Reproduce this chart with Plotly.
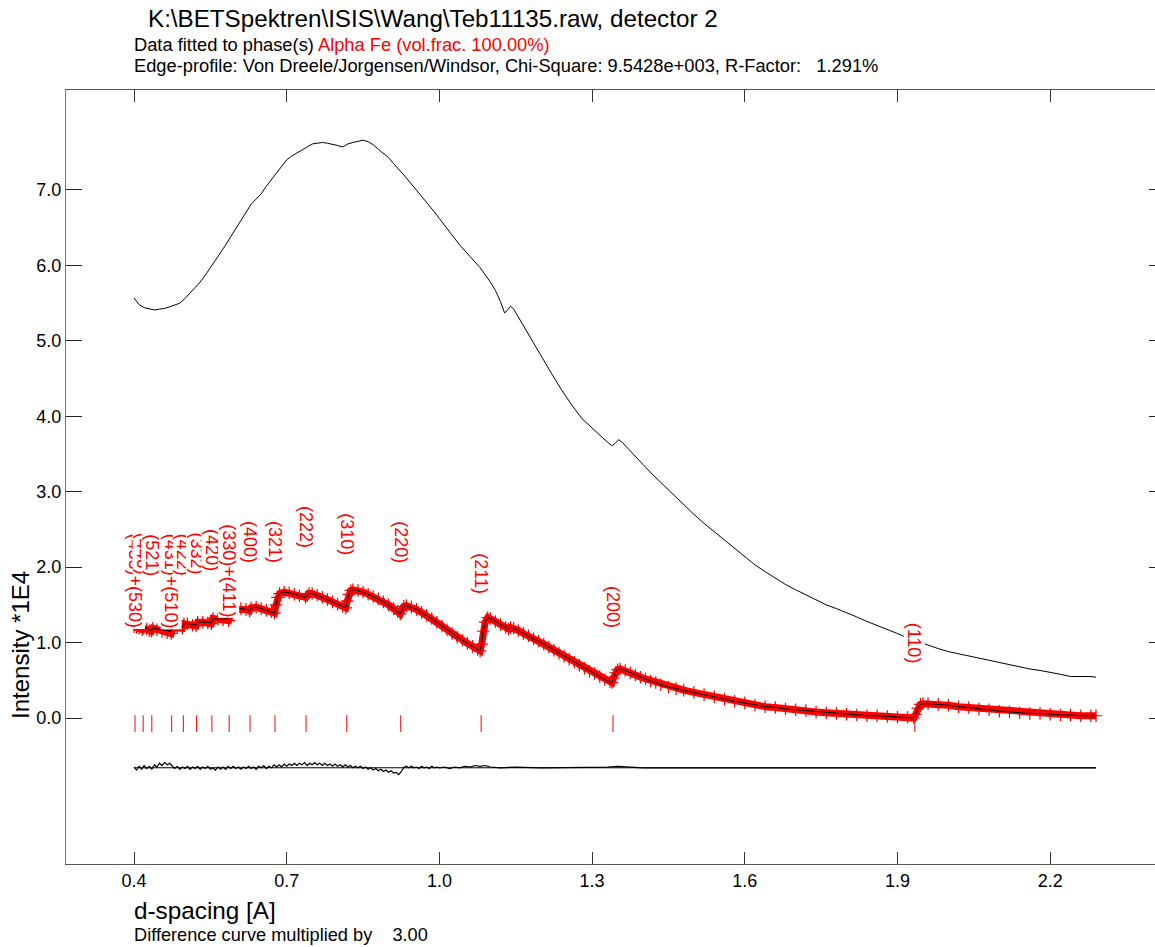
import plotly.graph_objects as go

# ---------------- data ----------------
# d-spacing grid of the fitted region and observed / calculated intensities (*1E4)
d_fit = [
    0.400, 0.405, 0.410, 0.416, 0.419, 0.425, 0.430, 0.434, 0.437, 0.445,
    0.455, 0.465, 0.473, 0.476, 0.485, 0.495, 0.498, 0.505, 0.515, 0.522,
    0.525, 0.535, 0.545, 0.552, 0.555, 0.565, 0.575, 0.586, 0.589, 0.592,
    0.600, 0.610, 0.620, 0.627, 0.630, 0.640, 0.650, 0.660, 0.670, 0.676,
    0.679, 0.682, 0.686, 0.695, 0.705, 0.715, 0.725, 0.737, 0.740, 0.744,
    0.750, 0.760, 0.770, 0.780, 0.790, 0.800, 0.810, 0.816, 0.819, 0.822,
    0.826, 0.830, 0.840, 0.850, 0.860, 0.870, 0.880, 0.890, 0.900, 0.910,
    0.918, 0.923, 0.926, 0.930, 0.935, 0.945, 0.955, 0.965, 0.975, 0.985,
    0.995, 1.005, 1.015, 1.025, 1.035, 1.045, 1.055, 1.065, 1.075, 1.080,
    1.083, 1.086, 1.090, 1.095, 1.100, 1.110, 1.120, 1.130, 1.136, 1.140,
    1.146, 1.155, 1.165, 1.175, 1.185, 1.195, 1.205, 1.215, 1.225, 1.235,
    1.245, 1.255, 1.265, 1.275, 1.285, 1.295, 1.305, 1.315, 1.325, 1.335,
    1.339, 1.342, 1.346, 1.350, 1.355, 1.365, 1.375, 1.385, 1.395, 1.405,
    1.415, 1.425, 1.435, 1.450, 1.465, 1.480, 1.500, 1.520, 1.540, 1.560,
    1.580, 1.600, 1.620, 1.640, 1.660, 1.680, 1.700, 1.720, 1.740, 1.760,
    1.780, 1.800, 1.820, 1.840, 1.860, 1.880, 1.900, 1.920, 1.932, 1.936,
    1.940, 1.945, 1.950, 1.960, 1.980, 2.000, 2.020, 2.040, 2.060, 2.080,
    2.100, 2.120, 2.140, 2.160, 2.180, 2.200, 2.220, 2.240, 2.260, 2.280,
    2.290,
]
obs = [
    1.21, 1.20, 1.19, 1.17, 1.19, 1.18, 1.16, 1.15, 1.19, 1.17,
    1.15, 1.13, 1.12, 1.20, 1.20, 1.19, 1.25, 1.25, 1.23, 1.22,
    1.27, 1.27, 1.26, 1.25, 1.32, 1.31, 1.30, 1.29, 1.36, 1.42,
    1.44, 1.45, 1.44, 1.42, 1.46, 1.47, 1.45, 1.43, 1.41, 1.39,
    1.50, 1.60, 1.65, 1.67, 1.66, 1.64, 1.62, 1.60, 1.62, 1.65,
    1.65, 1.63, 1.60, 1.57, 1.54, 1.51, 1.48, 1.46, 1.55, 1.64,
    1.69, 1.70, 1.69, 1.67, 1.64, 1.61, 1.58, 1.54, 1.50, 1.45,
    1.41, 1.38, 1.43, 1.48, 1.49, 1.47, 1.44, 1.40, 1.36, 1.32,
    1.27, 1.22, 1.17, 1.12, 1.07, 1.03, 0.99, 0.95, 0.91, 0.89,
    0.98, 1.15, 1.27, 1.33, 1.32, 1.28, 1.24, 1.20, 1.18, 1.20,
    1.19, 1.16, 1.12, 1.09, 1.05, 1.02, 0.98, 0.94, 0.90, 0.86,
    0.82, 0.78, 0.74, 0.70, 0.66, 0.62, 0.59, 0.55, 0.51, 0.48,
    0.47, 0.53, 0.60, 0.64, 0.65, 0.63, 0.60, 0.57, 0.54, 0.52,
    0.49, 0.47, 0.44, 0.41, 0.39, 0.37, 0.34, 0.31, 0.28, 0.25,
    0.22, 0.20, 0.17, 0.15, 0.14, 0.12, 0.11, 0.10, 0.08, 0.07,
    0.06, 0.05, 0.04, 0.03, 0.03, 0.02, 0.01, 0.01, 0.00, 0.05,
    0.13, 0.18, 0.19, 0.19, 0.18, 0.17, 0.15, 0.14, 0.12, 0.11,
    0.09, 0.08, 0.07, 0.06, 0.06, 0.05, 0.04, 0.04, 0.03, 0.03,
    0.03,
]
calc = [
    1.22, 1.21, 1.20, 1.18, 1.20, 1.19, 1.17, 1.16, 1.19, 1.18,
    1.17, 1.16, 1.15, 1.21, 1.21, 1.20, 1.25, 1.25, 1.24, 1.23,
    1.27, 1.27, 1.27, 1.26, 1.32, 1.31, 1.31, 1.33, 1.40, 1.43,
    1.44, 1.45, 1.44, 1.42, 1.46, 1.47, 1.45, 1.43, 1.41, 1.39,
    1.50, 1.60, 1.65, 1.67, 1.66, 1.64, 1.62, 1.60, 1.62, 1.65,
    1.65, 1.63, 1.60, 1.57, 1.54, 1.51, 1.48, 1.46, 1.55, 1.64,
    1.69, 1.70, 1.69, 1.67, 1.64, 1.61, 1.58, 1.54, 1.50, 1.45,
    1.41, 1.38, 1.43, 1.48, 1.49, 1.47, 1.44, 1.40, 1.36, 1.32,
    1.27, 1.22, 1.17, 1.12, 1.07, 1.03, 0.99, 0.95, 0.91, 0.89,
    0.98, 1.15, 1.27, 1.33, 1.32, 1.28, 1.24, 1.20, 1.18, 1.20,
    1.19, 1.16, 1.12, 1.09, 1.05, 1.02, 0.98, 0.94, 0.90, 0.86,
    0.82, 0.78, 0.74, 0.70, 0.66, 0.62, 0.59, 0.55, 0.51, 0.48,
    0.47, 0.53, 0.60, 0.64, 0.65, 0.63, 0.60, 0.57, 0.54, 0.52,
    0.49, 0.47, 0.44, 0.41, 0.39, 0.37, 0.34, 0.31, 0.28, 0.25,
    0.22, 0.20, 0.17, 0.15, 0.14, 0.12, 0.11, 0.10, 0.08, 0.07,
    0.06, 0.05, 0.04, 0.03, 0.03, 0.02, 0.01, 0.01, 0.00, 0.05,
    0.13, 0.18, 0.19, 0.19, 0.18, 0.17, 0.15, 0.14, 0.12, 0.11,
    0.09, 0.08, 0.07, 0.06, 0.06, 0.05, 0.04, 0.04, 0.03, 0.03,
    0.03,
]

# incident-spectrum (open beam) curve
d_inc = [
    0.400, 0.405, 0.410, 0.420, 0.430, 0.440, 0.450, 0.460, 0.470, 0.480,
    0.490, 0.500, 0.510, 0.520, 0.530, 0.540, 0.550, 0.560, 0.570, 0.580,
    0.590, 0.600, 0.610, 0.620, 0.630, 0.640, 0.650, 0.660, 0.670, 0.680,
    0.690, 0.700, 0.710, 0.720, 0.730, 0.740, 0.750, 0.760, 0.770, 0.780,
    0.790, 0.800, 0.810, 0.815, 0.820, 0.830, 0.840, 0.850, 0.860, 0.870,
    0.880, 0.890, 0.900, 0.910, 0.920, 0.930, 0.940, 0.950, 0.960, 0.970,
    0.980, 0.990, 1.000, 1.020, 1.040, 1.060, 1.080, 1.100, 1.110, 1.120,
    1.128, 1.133, 1.140, 1.146, 1.158, 1.180, 1.200, 1.220, 1.240, 1.260,
    1.280, 1.300, 1.320, 1.335, 1.340, 1.345, 1.352, 1.360, 1.380, 1.400,
    1.420, 1.440, 1.460, 1.480, 1.500, 1.520, 1.540, 1.560, 1.580, 1.600,
    1.620, 1.640, 1.660, 1.680, 1.700, 1.720, 1.740, 1.760, 1.780, 1.800,
    1.820, 1.840, 1.860, 1.880, 1.900, 1.920, 1.940, 1.960, 1.980, 2.000,
    2.020, 2.040, 2.060, 2.080, 2.100, 2.120, 2.140, 2.160, 2.180, 2.200,
    2.220, 2.240, 2.250, 2.260, 2.270, 2.280, 2.290,
]
incident = [
    5.57, 5.52, 5.48, 5.44, 5.42, 5.41, 5.42, 5.43, 5.45, 5.47,
    5.50, 5.56, 5.63, 5.70, 5.78, 5.87, 5.97, 6.07, 6.16, 6.27,
    6.38, 6.49, 6.60, 6.71, 6.81, 6.88, 6.95, 7.05, 7.14, 7.23,
    7.32, 7.40, 7.45, 7.49, 7.53, 7.56, 7.61, 7.62, 7.63, 7.62,
    7.61, 7.59, 7.57, 7.59, 7.61, 7.63, 7.65, 7.66, 7.64, 7.60,
    7.54, 7.49, 7.43, 7.35, 7.28, 7.20, 7.12, 7.04, 6.96, 6.88,
    6.79, 6.71, 6.62, 6.45, 6.27, 6.12, 5.97, 5.78, 5.67, 5.52,
    5.37, 5.40, 5.46, 5.42, 5.28, 5.02, 4.79, 4.57, 4.35, 4.15,
    3.97, 3.84, 3.72, 3.63, 3.61, 3.64, 3.69, 3.65, 3.50, 3.36,
    3.22, 3.09, 2.95, 2.82, 2.70, 2.58, 2.47, 2.35, 2.24, 2.13,
    2.03, 1.94, 1.85, 1.77, 1.70, 1.63, 1.56, 1.50, 1.45, 1.40,
    1.34, 1.28, 1.23, 1.17, 1.12, 1.06, 1.01, 0.96, 0.92, 0.88,
    0.85, 0.82, 0.79, 0.76, 0.73, 0.71, 0.68, 0.65, 0.63, 0.61,
    0.58, 0.55, 0.55, 0.56, 0.56, 0.55, 0.54,
]

# difference curve (x3), drawn around its offset
diff_offset = -0.66
d_diff = [
    0.400, 0.405, 0.410, 0.415, 0.420, 0.425, 0.430, 0.435, 0.440, 0.445,
    0.450, 0.455, 0.460, 0.465, 0.470, 0.475, 0.480, 0.485, 0.490, 0.495,
    0.500, 0.505, 0.510, 0.515, 0.520, 0.525, 0.530, 0.535, 0.540, 0.545,
    0.550, 0.555, 0.560, 0.565, 0.570, 0.575, 0.580, 0.585, 0.590, 0.595,
    0.600, 0.605, 0.610, 0.615, 0.620, 0.625, 0.630, 0.635, 0.640, 0.645,
    0.650, 0.655, 0.660, 0.665, 0.670, 0.675, 0.680, 0.685, 0.690, 0.695,
    0.700, 0.705, 0.710, 0.715, 0.720, 0.725, 0.730, 0.735, 0.740, 0.745,
    0.750, 0.755, 0.760, 0.765, 0.770, 0.775, 0.780, 0.785, 0.790, 0.795,
    0.800, 0.805, 0.810, 0.815, 0.820, 0.825, 0.830, 0.835, 0.840, 0.845,
    0.850, 0.855, 0.860, 0.865, 0.870, 0.875, 0.880, 0.885, 0.890, 0.895,
    0.900, 0.905, 0.910, 0.915, 0.920, 0.925, 0.930, 0.935, 0.940, 0.945,
    0.950, 0.955, 0.960, 0.965, 0.970, 0.975, 0.980, 0.985, 0.990, 0.995,
    1.000, 1.010, 1.020, 1.030, 1.040, 1.050, 1.060, 1.070, 1.080, 1.090,
    1.100, 1.120, 1.150, 1.200, 1.250, 1.300, 1.330, 1.350, 1.370, 1.400,
    1.500, 1.600, 1.700, 1.800, 1.900, 2.000, 2.100, 2.200, 2.290,
]
diff = [
    -0.65, -0.69, -0.64, -0.68, -0.63, -0.67, -0.64, -0.68, -0.62, -0.65,
    -0.60, -0.63, -0.59, -0.62, -0.60, -0.64, -0.67, -0.64, -0.68, -0.65,
    -0.67, -0.64, -0.68, -0.65, -0.67, -0.64, -0.68, -0.65, -0.67, -0.64,
    -0.68, -0.66, -0.69, -0.65, -0.68, -0.65, -0.68, -0.64, -0.67, -0.64,
    -0.67, -0.65, -0.68, -0.65, -0.67, -0.64, -0.67, -0.65, -0.68, -0.64,
    -0.66, -0.63, -0.67, -0.64, -0.66, -0.62, -0.65, -0.62, -0.65, -0.61,
    -0.64, -0.61, -0.63, -0.60, -0.63, -0.60, -0.62, -0.59, -0.63, -0.60,
    -0.62, -0.59, -0.62, -0.60, -0.63, -0.60, -0.63, -0.61, -0.64, -0.61,
    -0.64, -0.62, -0.65, -0.62, -0.65, -0.63, -0.66, -0.64, -0.66, -0.64,
    -0.67, -0.65, -0.68, -0.66, -0.69, -0.67, -0.70, -0.68, -0.71, -0.69,
    -0.72, -0.70, -0.73, -0.72, -0.75, -0.71, -0.66, -0.64, -0.66, -0.64,
    -0.66, -0.65, -0.67, -0.64, -0.66, -0.65, -0.67, -0.64, -0.66, -0.65,
    -0.66, -0.65, -0.67, -0.65, -0.66, -0.64, -0.65, -0.63, -0.64, -0.63,
    -0.65, -0.66, -0.65, -0.66, -0.66, -0.65, -0.65, -0.64, -0.65, -0.66,
    -0.66, -0.66, -0.66, -0.66, -0.66, -0.66, -0.66, -0.66, -0.66,
]

# Bragg reflections of alpha-Fe (d-spacing, label)
refl_d = [0.402, 0.418, 0.435, 0.474, 0.497, 0.523, 0.553, 0.587,
          0.628, 0.677, 0.738, 0.818, 0.924, 1.082, 1.341, 1.934]
refl_hkl = ["(433)+(530)", "(440)", "(521)", "(431)+(510)", "(422)", "(332)",
            "(420)", "(330)+(411)", "(400)", "(321)", "(222)", "(310)",
            "(220)", "(211)", "(200)", "(110)"]
refl_tick_y = -0.075

x_ticks = [0.4, 0.7, 1.0, 1.3, 1.6, 1.9, 2.2]
y_ticks = [0, 1, 2, 3, 4, 5, 6, 7]

# ---------------- geometry ----------------
W, H = 1165, 947
L, R, T, B = 66, 0, 90, 83
PX_PER_D = 509.0
PX_PER_I = 75.43
x0 = 0.4 - (134 - L) / PX_PER_D
x1 = x0 + (W - L - R) / PX_PER_D
y1 = (718 - T) / PX_PER_I
y0 = y1 - (H - T - B) / PX_PER_I

# tops of the reflection labels (intensity units)
label_top = [(718 - p) / PX_PER_I for p in
             [532, 532, 533, 533, 533, 531, 528, 523,
              520, 520, 505, 512, 520, 552, 585, 622]]


def px_x(p):
    return (p - L) / (W - L - R)


def px_y(p):
    return (H - B - p) / (H - T - B)


FONT = "Liberation Sans, Arial, sans-serif"
RED = "#ff0000"

fig = go.Figure()

fig.add_trace(go.Scatter(
    x=d_inc, y=incident, mode="lines",
    line=dict(color="black", width=1), hoverinfo="skip"))

fig.add_trace(go.Scatter(
    x=[d_fit[0], d_fit[-1]], y=[diff_offset, diff_offset], mode="lines",
    line=dict(color="black", width=1), hoverinfo="skip"))
fig.add_trace(go.Scatter(
    x=d_diff, y=diff, mode="lines",
    line=dict(color="black", width=1.2), hoverinfo="skip"))

fig.add_trace(go.Scatter(
    x=d_fit, y=obs, mode="lines+markers",
    line=dict(color=RED, width=7),
    marker=dict(symbol="cross-thin", size=9, line=dict(color=RED, width=1.2)),
    hoverinfo="skip"))
fig.add_trace(go.Scatter(
    x=d_fit, y=calc, mode="lines",
    line=dict(color="black", width=1), hoverinfo="skip"))

fig.add_trace(go.Scatter(
    x=refl_d, y=[refl_tick_y] * len(refl_d), mode="markers",
    marker=dict(symbol="line-ns", size=12, line=dict(color=RED, width=1)),
    hoverinfo="skip"))

annotations = []
for d, lab, top in zip(refl_d, refl_hkl, label_top):
    annotations.append(dict(
        x=d, y=top, xref="x", yref="y", text=lab, showarrow=False,
        textangle=90, xanchor="center", yanchor="top",
        bgcolor="white", borderpad=0,
        font=dict(family=FONT, size=18, color=RED)))

annotations += [
    dict(x=px_x(146), y=px_y(18), xref="paper", yref="paper",
         text="K:\\BETSpektren\\ISIS\\Wang\\Teb11135.raw, detector 2",
         showarrow=False, xanchor="left", yanchor="middle",
         font=dict(family=FONT, size=24.2, color="black")),
    dict(x=px_x(132), y=px_y(45), xref="paper", yref="paper",
         text="Data fitted to phase(s) <span style='color:#ff0000'>Alpha Fe (vol.frac. 100.00%)</span>",
         showarrow=False, xanchor="left", yanchor="middle",
         font=dict(family=FONT, size=18.3, color="black")),
    dict(x=px_x(132), y=px_y(66), xref="paper", yref="paper",
         text="Edge-profile: Von Dreele/Jorgensen/Windsor, Chi-Square: 9.5428e+003, R-Factor:\u00a0\u00a0 1.291%",
         showarrow=False, xanchor="left", yanchor="middle",
         font=dict(family=FONT, size=18.3, color="black")),
    dict(x=px_x(132), y=px_y(910), xref="paper", yref="paper",
         text="d-spacing [A]", showarrow=False, xanchor="left", yanchor="middle",
         font=dict(family=FONT, size=24.3, color="black")),
    dict(x=px_x(132), y=px_y(935), xref="paper", yref="paper",
         text="Difference curve multiplied by\u00a0\u00a0\u00a0 3.00",
         showarrow=False, xanchor="left", yanchor="middle",
         font=dict(family=FONT, size=18.2, color="black")),
    dict(x=px_x(20), y=px_y(645), xref="paper", yref="paper",
         text="Intensity *1E4", showarrow=False, textangle=-90,
         xanchor="center", yanchor="middle",
         font=dict(family=FONT, size=24, color="black")),
]

fig.update_layout(
    width=W, height=H,
    margin=dict(l=L, r=R, t=T, b=B, pad=0),
    paper_bgcolor="white", plot_bgcolor="white",
    showlegend=False,
    annotations=annotations,
    font=dict(family=FONT, size=18, color="black"),
)
fig.update_xaxes(
    range=[x0, x1], tickmode="array", tickvals=x_ticks,
    ticktext=[f"{v:.1f}" for v in x_ticks],
    ticks="inside", ticklen=12, tickwidth=1, tickcolor="#333",
    showline=True, linecolor="#555", linewidth=1, mirror="ticks",
    showgrid=False, zeroline=False,
    tickfont=dict(family=FONT, size=18, color="black"))
fig.update_yaxes(
    range=[y0, y1], tickmode="array", tickvals=y_ticks,
    ticktext=[f"{v:.1f}" for v in y_ticks],
    ticks="inside", ticklen=16, tickwidth=1, tickcolor="#222",
    showline=True, linecolor="#777", linewidth=1, mirror="ticks",
    showgrid=False, zeroline=False,
    tickfont=dict(family=FONT, size=18, color="black"))

fig.write_html("out.html",
               post_script="document.body.style.overflow='hidden';document.body.style.margin='0';")
